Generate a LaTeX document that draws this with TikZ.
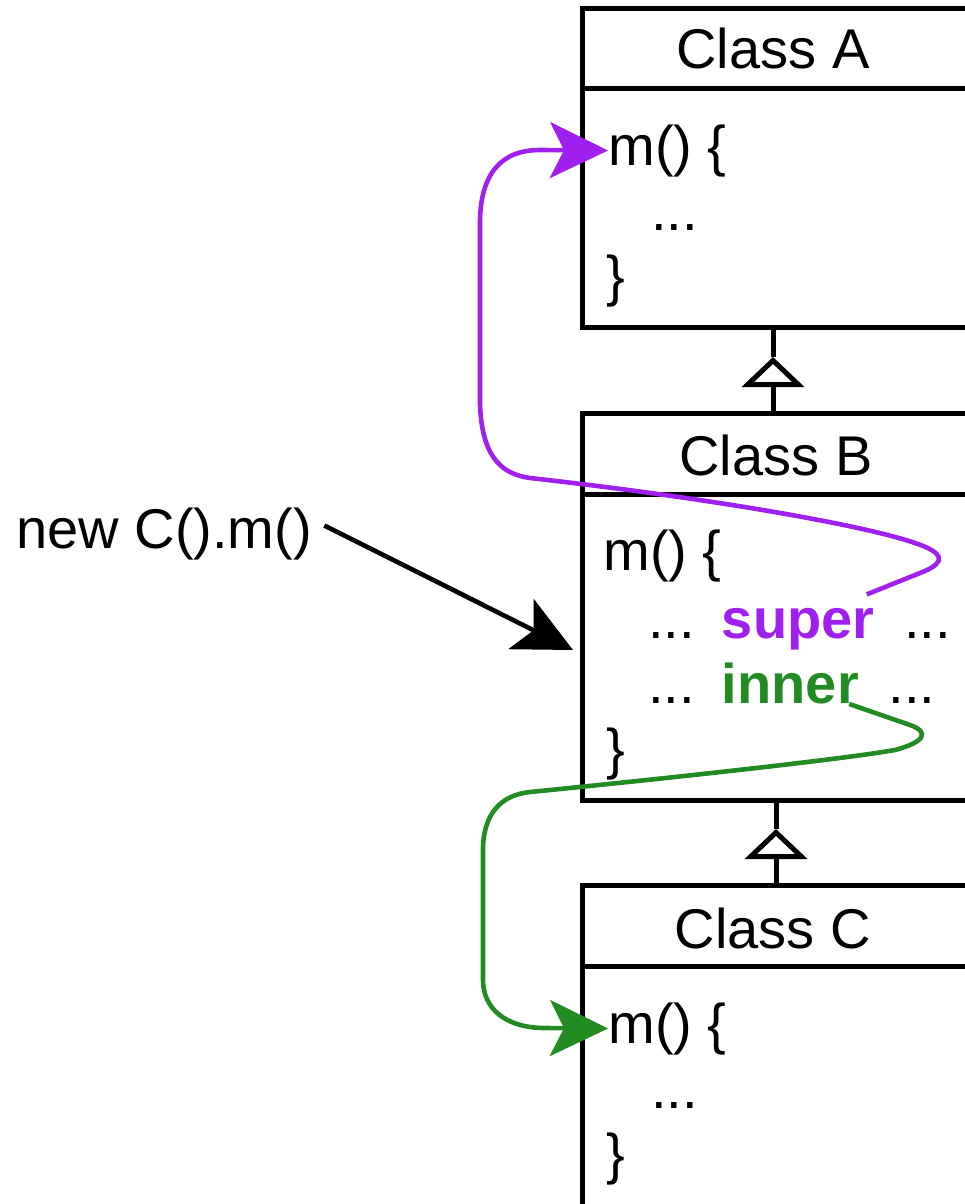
\documentclass[tikz,border=0pt]{standalone}
\usepackage{fontspec}
\setmainfont{Liberation Sans}
\usetikzlibrary{arrows.meta,calc,positioning}
\definecolor{superpurple}{RGB}{160,32,240}
\definecolor{innergreen}{RGB}{34,139,34}
\tikzset{
  code/.style={inner sep=0pt, anchor=base west, font=\fontsize{28}{34}\selectfont},
  title/.style={inner sep=0pt, anchor=base, font=\fontsize{28}{34}\selectfont},
  keyword/.style={code, font=\fontsize{28}{34}\selectfont\bfseries},
  classline/.style={line width=2.5pt},
  inherit/.style={classline, -{Triangle[open, length=15pt, width=31pt]}},
  callarrow/.style={line width=2.3pt, -{Stealth[length=29pt, width=28pt, inset=7pt]}},
}
\begin{document}
\begin{tikzpicture}[x=0.5pt, y=-0.5pt]
    \useasboundingbox (0,0) rectangle (964,1204);

    % Các điểm của ba lớp
    \coordinate (Atl) at (582,9);    \coordinate (Abr) at (990,327);
    \coordinate (Btl) at (582,413);  \coordinate (Bbr) at (990,800);
    \coordinate (Ctl) at (582,885);  \coordinate (Cbr) at (990,1230);
    \coordinate (Abot) at (773,327); \coordinate (Btop) at (773,413);
    \coordinate (Bbot) at (776,800); \coordinate (Ctop) at (776,885);
    \coordinate (apexAB) at (773,357);
    \coordinate (apexBC) at (776,829);
    \coordinate (hitB) at (573,650);

    % 1. Ba hộp lớp
    \draw[classline] (Atl) rectangle (Abr);
    \draw[classline] (582,89) -- (990,89);
    \draw[classline] (Btl) rectangle (Bbr);
    \draw[classline] (582,494) -- (990,494);
    \draw[classline] (Ctl) rectangle (Cbr);
    \draw[classline] (582,966) -- (990,966);

    % 2. Quan hệ kế thừa
    \draw[inherit] (Btop) -- (apexAB);
    \draw[classline] (apexAB) -- (Abot);
    \draw[inherit] (Ctop) -- (apexBC);
    \draw[classline] (apexBC) -- (Bbot);

    % 3. Tên lớp
    \node[title] (titleA) at (773,69) {Class A};
    \node[title] (titleB) at (776,475) {Class B};
    \node[title] (titleC) at (773,948) {Class C};

    % 4. Nội dung các lớp
    \node[code] (mA) at (608,165) {m() \{};
    \node[code] (dotsA) at (651,230) {...};
    \node[code] (closeA) at (606,295) {\}};

    \node[code] (mB) at (603,570) {m() \{};
    \node[code] (dotsB1) at (648,638) {...};
    \node[keyword, text=superpurple, base right=13pt of dotsB1] (super) {super};
    \node[code, base right=14.5pt of super] (dotsB2) {...};
    \node[code] (dotsB3) at (648,703) {...};
    \node[keyword, text=innergreen, base right=13pt of dotsB3] (inner) {inner};
    \node[code, base right=14.5pt of inner] (dotsB4) {...};
    \node[code] (closeB) at (606,768) {\}};

    \node[code] (mC) at (608,1043) {m() \{};
    \node[code] (dotsC) at (651,1108) {...};
    \node[code] (closeC) at (606,1173) {\}};

    % 5. Lời gọi
    \node[code] (call) at (16,548) {new C().m()};
    \draw[callarrow] ([shift={(12,-8)}]call.east) -- (hitB);

    % 6. super: từ B lên A
    \draw[callarrow, superpurple] ([shift={(-8,-13)}]super.north east)
        -- (925,571) .. controls (945,562) and (945,553) .. (915,543)
        .. controls (860,524) and (700,497) .. (530,478)
        .. controls (500,474) and (482,455) .. (480,405)
        -- (480,220) .. controls (481,175) and (500,150) .. (540,150)
        -- (mA.west);

    % 7. inner: từ B xuống C
    \draw[callarrow, innergreen] ([xshift=-5pt]inner.south east)
        -- (910,725) .. controls (930,732) and (925,742) .. (895,750)
        .. controls (850,758) and (700,775) .. (530,792)
        .. controls (500,795) and (483,815) .. (483,850)
        -- (483,980) .. controls (483,1008) and (505,1028) .. (545,1028)
        -- (mC.west);
\end{tikzpicture}
\end{document}
